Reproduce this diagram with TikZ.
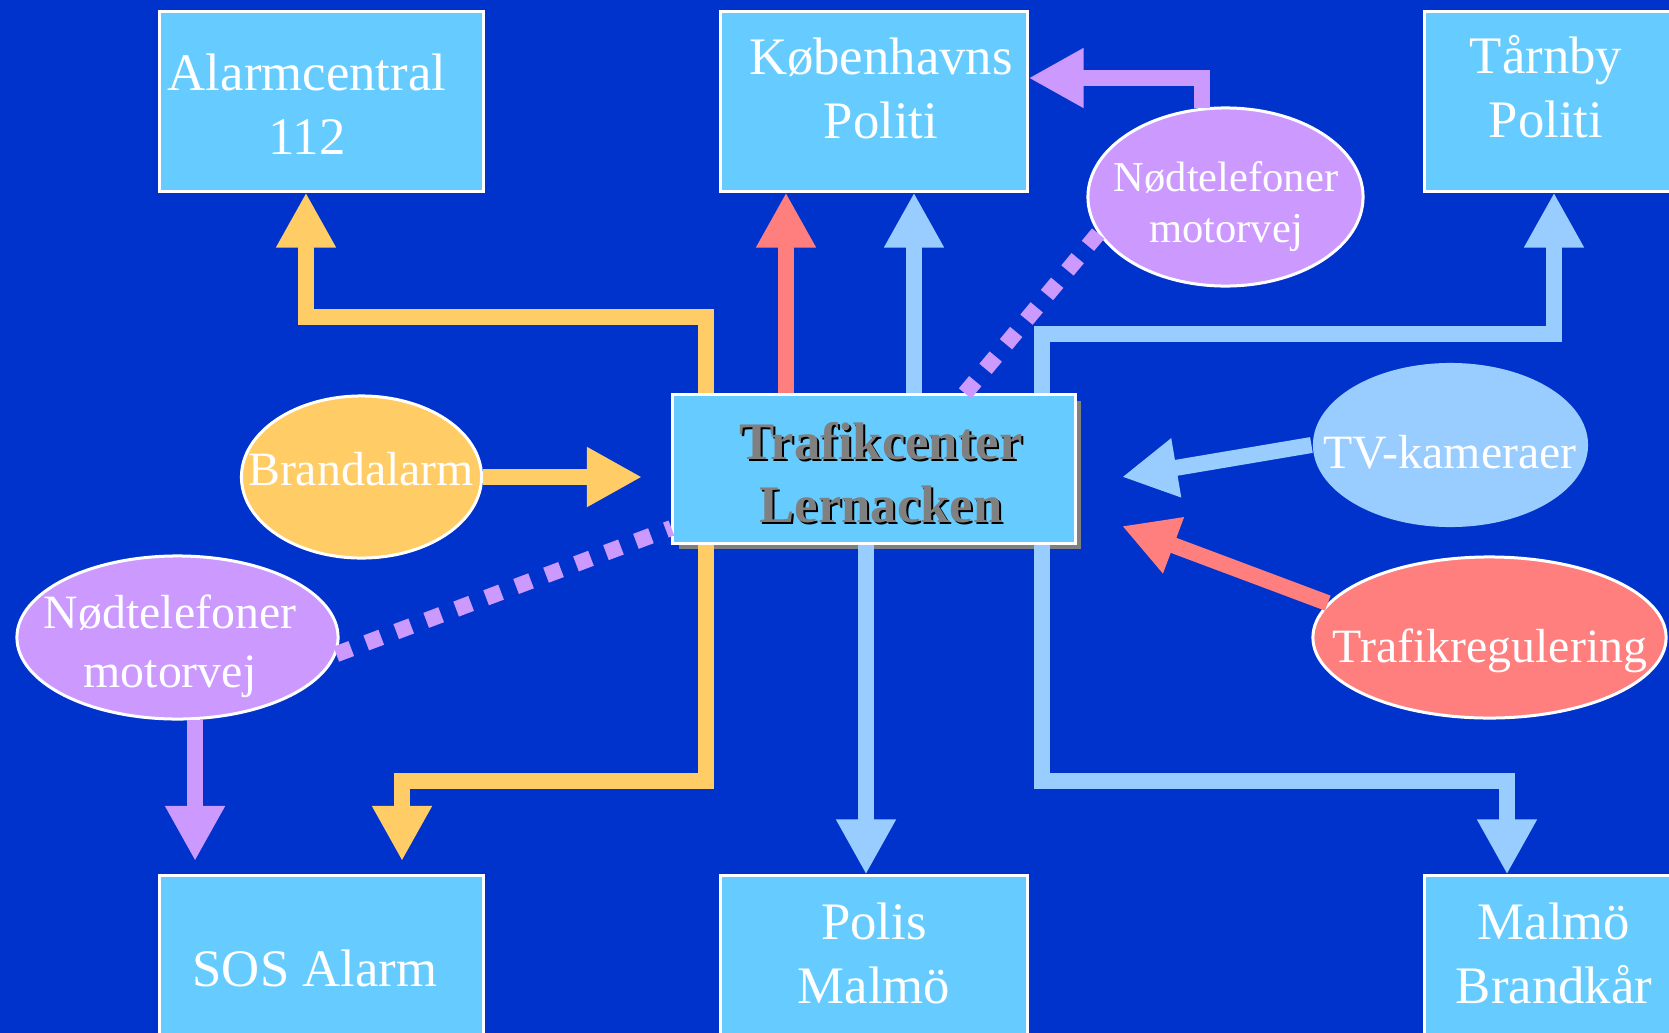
\documentclass[tikz,border=0pt]{standalone}
\usepackage{fontspec}
\setmainfont{Liberation Serif}
\usetikzlibrary{arrows.meta,shapes.geometric,shadows}
\definecolor{bg}{HTML}{0033CC}
\definecolor{boxc}{HTML}{66CCFF}
\definecolor{yel}{HTML}{FFCC66}
\definecolor{rose}{HTML}{FF7F7F}
\definecolor{sky}{HTML}{99CCFF}
\definecolor{lila}{HTML}{CC99FF}
\definecolor{grtxt}{HTML}{808080}
\begin{document}
\begin{tikzpicture}[x=0.01cm,y=-0.01cm,
 box/.style={draw=white,line width=0.03cm,fill=boxc,inner sep=0pt,minimum height=1.79cm},
 oval/.style={ellipse,draw=white,line width=0.03cm,inner sep=0pt},
 txt/.style={text=white,align=center,inner sep=0pt,font=\fontsize{15}{18.2}\selectfont},
 otxt/.style={text=white,align=center,inner sep=0pt,font=\fontsize{13.6}{16.8}\selectfont},
 pipe/.style={line width=0.16cm,line join=miter,-{Triangle[length=0.55cm,width=0.56cm]}},
 dots/.style={lila,line width=0.16cm,dash pattern=on 0.16cm off 0.16cm}]
\useasboundingbox (0,0) rectangle (1669,1033);
\fill[bg] (0,0) rectangle (1669,1033);
\foreach \n/\x/\y/\w in {alarm/321.5/101.5/3.23,kbh/874/101.5/3.06,tarnby/1572.5/101.5/2.95,
  sos/321.5/965.5/3.23,polis/874/965.5/3.06,brandk/1572.5/965.5/2.95}
  {\node[box,minimum width=\w cm](\n)at(\x,\y){};}
\node[txt](alarmT)at(307,104){Alarmcentral\\112};
\node[txt](kbhT)at(881,88){Københavns\\Politi};
\node[txt](tarnbyT)at(1546,87){Tårnby\\Politi};
\node[txt](sosT)at(315,968){SOS Alarm};
\node[txt](polisT)at(874,953){Polis\\Malmö};
\node[txt](brandkT)at(1554,953){Malmö\\Brandkår};
\node[box,minimum width=4.02cm,minimum height=1.48cm,
  drop shadow={shadow xshift=0.06cm,shadow yshift=-0.06cm,fill=grtxt,opacity=1}](tc)at(874,469){};
\node[txt,text=black,font=\bfseries\fontsize{15}{17.9}\selectfont](tcS)at(883,475){Trafikcenter\\Lernacken};
\node[txt,text=grtxt,font=\bfseries\fontsize{15}{17.9}\selectfont](tcT)at(881,473){Trafikcenter\\Lernacken};
\node[oval,fill=yel,minimum width=2.40cm,minimum height=1.62cm](brand)at(361.5,477){};
\node[otxt](brandT)at(361,469){Brandalarm};
\node[oval,fill=lila,minimum width=3.21cm,minimum height=1.63cm](nodL)at(177.5,637.5){};
\node[otxt](nodLT)at(170,646){Nødtelefoner\\motorvej};
\node[oval,fill=lila,minimum width=2.75cm,minimum height=1.78cm](nodR)at(1225.5,197){};
\node[otxt,font=\fontsize{12.1}{14.5}\selectfont](nodRT)at(1226,207){Nødtelefoner\\motorvej};
\node[oval,fill=sky,draw=none,minimum width=2.75cm,minimum height=1.64cm](tv)at(1450.5,445){};
\node[otxt](tvT)at(1450,452){TV-kameraer};
\node[oval,fill=rose,minimum width=3.53cm,minimum height=1.61cm](trafreg)at(1489.5,637.5){};
\node[otxt](trafregT)at(1490,651){Trafikregulering};
\coordinate(brIn)at(642,477);
\coordinate(tvIn)at(1122,477);
\coordinate(trIn)at(1122,526);
\coordinate(sosA)at(402,861);
\coordinate(sosB)at(194,861);
\draw[pipe,yel](tc.north -| 706,0)|-(306,317)--(alarm.south -| 306,0);
\draw[pipe,rose](tc.north -| 786,0)--(kbh.south -| 786,0);
\draw[pipe,sky](tc.north -| 914,0)--(kbh.south -| 914,0);
\draw[pipe,sky](tc.north -| 1042,0)|-(1554,334)--(tarnby.south -| 1554,0);
\draw[pipe,lila](nodR.105)|-(kbh.east |- 0,78);
\draw[dots](tc.north -| 965,0)--(nodR.196);
\draw[dots](nodL.-6)--(tc.west |- 0,528);
\draw[pipe,yel](brand.east)--(brIn);
\draw[pipe,sky](tv.west)--(tvIn);
\draw[pipe,rose](trafreg.168)--(trIn);
\draw[pipe,yel](tc.south -| 706,0)|-(402,781)--(sosA);
\draw[pipe,lila](nodL.-78)--(nodL.-78 |- sosB);
\draw[pipe,sky](tc.south -| 866,0)--(polis.north -| 866,0);
\draw[pipe,sky](tc.south -| 1042,0)|-(1507,781)--(brandk.north -| 1507,0);
\end{tikzpicture}
\end{document}
